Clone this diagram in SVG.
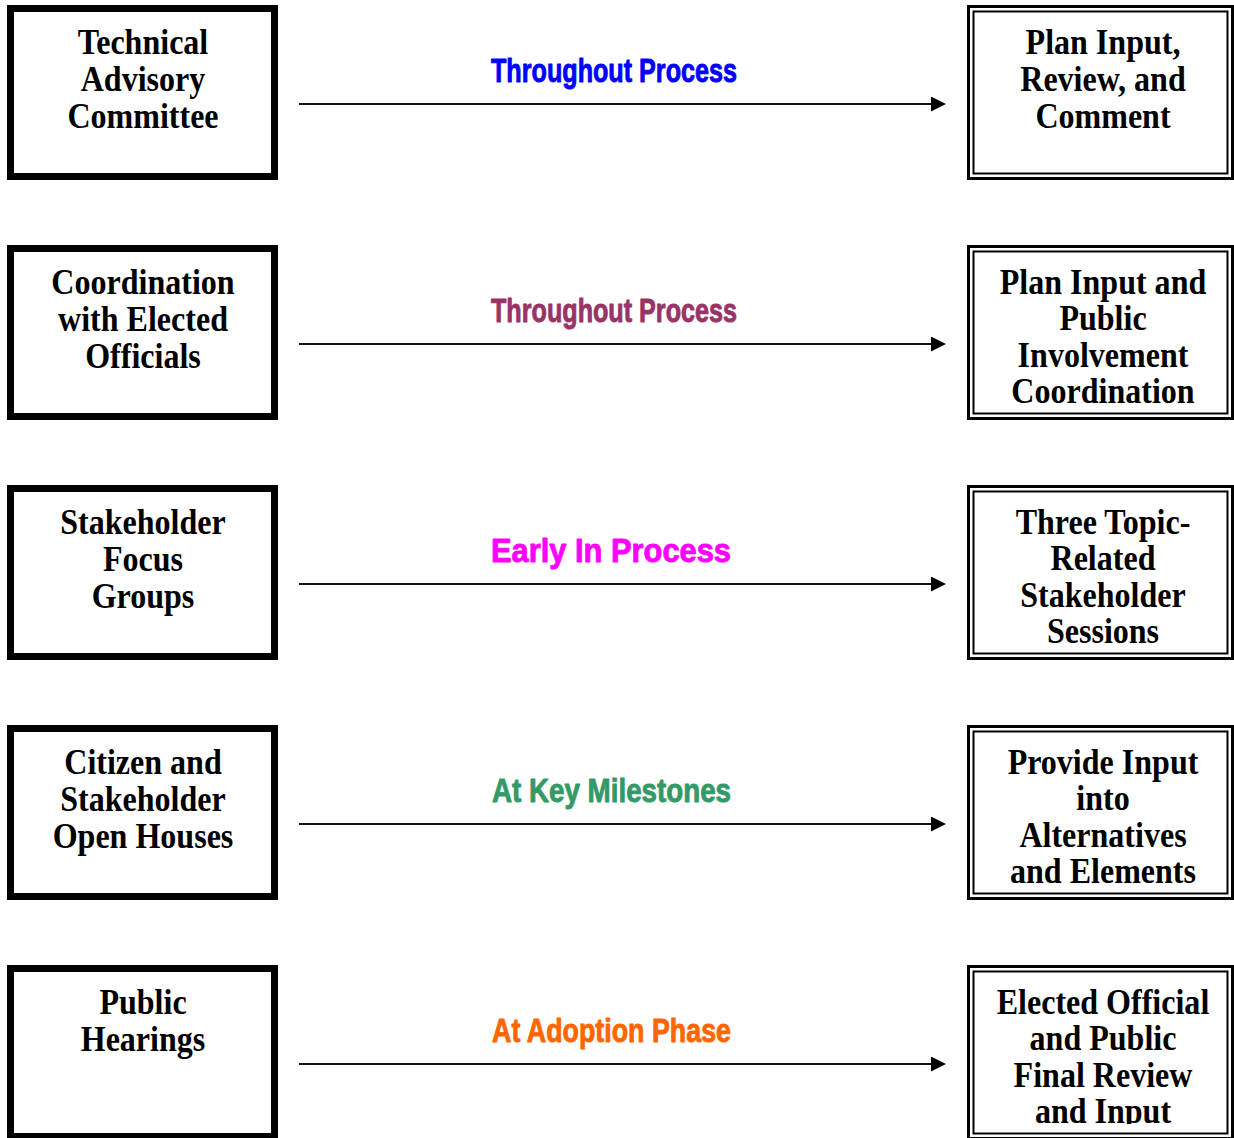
<svg xmlns="http://www.w3.org/2000/svg" width="1234" height="1138" viewBox="0 0 1234 1138">
<style>
.lbox{fill:#fff;stroke:#000;stroke-width:7}
.ro{fill:#fff;stroke:#000;stroke-width:3}
.ri{fill:none;stroke:#000;stroke-width:2}
.bt{font-family:"Liberation Serif","Times New Roman",serif;font-weight:bold;font-size:36px;text-anchor:middle;fill:#000}
.conn{stroke:#111;stroke-width:2;fill:none}
.lbl{font-family:"Liberation Sans",Arial,sans-serif;font-weight:bold;font-size:34px;stroke-width:0.9;stroke-linejoin:round}
</style>
<defs>
<marker id="ah" markerUnits="userSpaceOnUse" markerWidth="16" markerHeight="16" refX="9" refY="7.5" orient="auto">
<path d="M0,0 L15,7.5 L0,15 z" fill="#000"/>
</marker>
<clipPath id="clip5"><rect x="960" y="960" width="280" height="164"/></clipPath>
</defs>
<rect width="1234" height="1138" fill="#fff"/>

<g id="connectors">
<line class="conn" x1="299" y1="104" x2="940" y2="104" marker-end="url(#ah)"/>
<line class="conn" x1="299" y1="344" x2="940" y2="344" marker-end="url(#ah)"/>
<line class="conn" x1="299" y1="584" x2="940" y2="584" marker-end="url(#ah)"/>
<line class="conn" x1="299" y1="824" x2="940" y2="824" marker-end="url(#ah)"/>
<line class="conn" x1="299" y1="1064" x2="940" y2="1064" marker-end="url(#ah)"/>
<text class="lbl" x="491" y="82" fill="#0000FF" stroke="#0000FF" textLength="246" lengthAdjust="spacingAndGlyphs">Throughout Process</text>
<text class="lbl" x="491" y="322" fill="#993366" stroke="#993366" textLength="246" lengthAdjust="spacingAndGlyphs">Throughout Process</text>
<text class="lbl" x="491" y="562" fill="#FF00FF" stroke="#FF00FF" textLength="240" lengthAdjust="spacingAndGlyphs">Early In Process</text>
<text class="lbl" x="492" y="802" fill="#339966" stroke="#339966" textLength="239" lengthAdjust="spacingAndGlyphs">At Key Milestones</text>
<text class="lbl" x="492" y="1042" fill="#FF6600" stroke="#FF6600" textLength="239" lengthAdjust="spacingAndGlyphs">At Adoption Phase</text>
</g>

<g id="node-tac">
<rect class="lbox" x="10.5" y="8.5" width="264" height="168"/>
<g transform="translate(143 0) scale(0.89 1)"><text class="bt"><tspan x="0" y="54">Technical</tspan><tspan x="0" y="91">Advisory</tspan><tspan x="0" y="128">Committee</tspan></text></g>
</g>
<g id="node-elected">
<rect class="lbox" x="10.5" y="248.5" width="264" height="168"/>
<g transform="translate(143 0) scale(0.89 1)"><text class="bt"><tspan x="0" y="294">Coordination</tspan><tspan x="0" y="331">with Elected</tspan><tspan x="0" y="368">Officials</tspan></text></g>
</g>
<g id="node-focus">
<rect class="lbox" x="10.5" y="488.5" width="264" height="168"/>
<g transform="translate(143 0) scale(0.89 1)"><text class="bt"><tspan x="0" y="534">Stakeholder</tspan><tspan x="0" y="571">Focus</tspan><tspan x="0" y="608">Groups</tspan></text></g>
</g>
<g id="node-openhouses">
<rect class="lbox" x="10.5" y="728.5" width="264" height="168"/>
<g transform="translate(143 0) scale(0.89 1)"><text class="bt"><tspan x="0" y="774">Citizen and</tspan><tspan x="0" y="811">Stakeholder</tspan><tspan x="0" y="848">Open Houses</tspan></text></g>
</g>
<g id="node-hearings">
<rect class="lbox" x="10.5" y="968.5" width="264" height="168"/>
<g transform="translate(143 0) scale(0.89 1)"><text class="bt"><tspan x="0" y="1014">Public</tspan><tspan x="0" y="1051">Hearings</tspan></text></g>
</g>

<g id="node-plan-input">
<rect class="ro" x="968.5" y="6.5" width="264" height="172"/>
<rect class="ri" x="973.5" y="11.5" width="254" height="162"/>
<g transform="translate(1103 0) scale(0.89 1)"><text class="bt"><tspan x="0" y="54">Plan Input,</tspan><tspan x="0" y="91">Review, and</tspan><tspan x="0" y="128">Comment</tspan></text></g>
</g>
<g id="node-plan-coord">
<rect class="ro" x="968.5" y="246.5" width="264" height="172"/>
<rect class="ri" x="973.5" y="251.5" width="254" height="162"/>
<g transform="translate(1103 0) scale(0.89 1)"><text class="bt"><tspan x="0" y="294">Plan Input and</tspan><tspan x="0" y="330.5">Public</tspan><tspan x="0" y="367">Involvement</tspan><tspan x="0" y="403.5">Coordination</tspan></text></g>
</g>
<g id="node-sessions">
<rect class="ro" x="968.5" y="486.5" width="264" height="172"/>
<rect class="ri" x="973.5" y="491.5" width="254" height="162"/>
<g transform="translate(1103 0) scale(0.89 1)"><text class="bt"><tspan x="0" y="534">Three Topic-</tspan><tspan x="0" y="570.5">Related</tspan><tspan x="0" y="607">Stakeholder</tspan><tspan x="0" y="643.5">Sessions</tspan></text></g>
</g>
<g id="node-alternatives">
<rect class="ro" x="968.5" y="726.5" width="264" height="172"/>
<rect class="ri" x="973.5" y="731.5" width="254" height="162"/>
<g transform="translate(1103 0) scale(0.89 1)"><text class="bt"><tspan x="0" y="774">Provide Input</tspan><tspan x="0" y="810.5">into</tspan><tspan x="0" y="847">Alternatives</tspan><tspan x="0" y="883.5">and Elements</tspan></text></g>
</g>
<g id="node-final-review">
<rect class="ro" x="968.5" y="966.5" width="264" height="172"/>
<rect class="ri" x="973.5" y="971.5" width="254" height="162"/>
<g clip-path="url(#clip5)"><g transform="translate(1103 0) scale(0.89 1)"><text class="bt"><tspan x="0" y="1014">Elected Official</tspan><tspan x="0" y="1050.5">and Public</tspan><tspan x="0" y="1087">Final Review</tspan><tspan x="0" y="1123.5">and Input</tspan></text></g></g>
</g>
</svg>
